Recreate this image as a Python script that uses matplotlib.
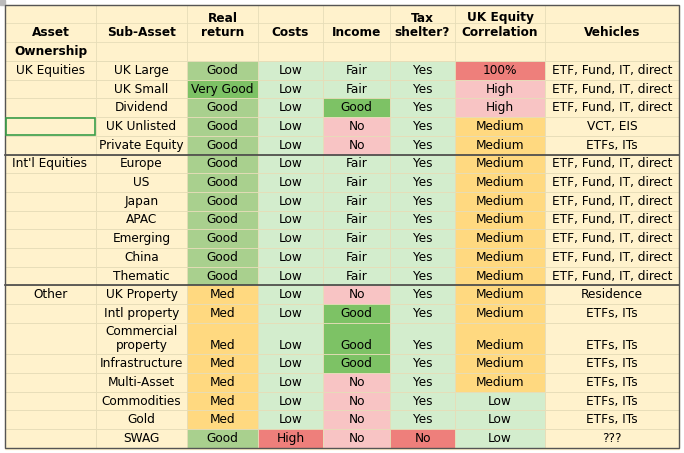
import matplotlib.pyplot as plt
from matplotlib.patches import Rectangle

headers = ["Asset", "Sub-Asset", "Real\nreturn", "Costs", "Income", "Tax\nshelter?", "UK Equity\nCorrelation", "Vehicles"]
assets = ["UK Equities", "", "", "", "", "Int'l Equities", "", "", "", "", "", "", "Other", "", "", "", "", "", "", ""]
subs = ["UK Large", "UK Small", "Dividend", "UK Unlisted", "Private Equity", "Europe", "US", "Japan", "APAC",
        "Emerging", "China", "Thematic", "UK Property", "Intl property", "Commercial\nproperty", "Infrastructure",
        "Multi-Asset", "Commodities", "Gold", "SWAG"]
real = ["Good", "Very Good", "Good", "Good", "Good"] + ["Good"] * 7 + ["Med"] * 7 + ["Good"]
costs = ["Low"] * 19 + ["High"]
income = ["Fair", "Fair", "Good", "No", "No"] + ["Fair"] * 7 + ["No", "Good", "Good", "Good", "No", "No", "No", "No"]
tax = ["Yes"] * 19 + ["No"]
corr = ["100%", "High", "High", "Medium", "Medium"] + ["Medium"] * 7 + ["Medium"] * 5 + ["Low", "Low", "Low"]
vehicles = ["ETF, Fund, IT, direct"] * 3 + ["VCT, EIS", "ETFs, ITs"] + ["ETF, Fund, IT, direct"] * 7 + \
           ["Residence"] + ["ETFs, ITs"] * 6 + ["???"]

cream = "#FFF2CC"
colors = {
    "Good_r": "#A9D08E", "Very Good": "#7DC265", "Med": "#FFD980",
    "Low_c": "#D3EDCD", "High_c": "#EE7F7B",
    "Fair": "#D3EDCD", "Good_i": "#7DC265", "No_i": "#F8C4C4",
    "Yes": "#D3EDCD", "No_t": "#EE7F7B",
    "100%": "#EE7F7B", "High": "#F8C4C4", "Medium": "#FFD980", "Low": "#D3EDCD",
}

def col_color(ci, v):
    if ci == 2:
        return colors["Good_r"] if v == "Good" else colors[v]
    if ci == 3:
        return colors["Low_c"] if v == "Low" else colors["High_c"]
    if ci == 4:
        return {"Fair": colors["Fair"], "Good": colors["Good_i"], "No": colors["No_i"]}[v]
    if ci == 5:
        return colors["Yes"] if v == "Yes" else colors["No_t"]
    if ci == 6:
        return colors[v]
    return cream

xs = [5, 96, 187, 258, 323, 390, 455, 545, 679]
fig = plt.figure(figsize=(6.84, 4.53), dpi=100)
ax = fig.add_axes([0, 0, 1, 1])
ax.set_xlim(0, 684)
ax.set_ylim(453, 0)
ax.axis("off")
ax.add_patch(Rectangle((0, 0), 684, 453, color="white", zorder=0))
ax.add_patch(Rectangle((xs[0], 5), xs[-1] - xs[0], 444, color=cream, zorder=0))
ax.add_patch(Rectangle((0, 0), 5, 5, color="#BBBBBB", zorder=0))

font = dict(family="DejaVu Sans", fontsize=8.7, color="black")
for i, h in enumerate(headers):
    ax.text((xs[i] + xs[i + 1]) / 2, 39, h, ha="center", va="bottom", fontweight="bold", linespacing=1.15, **font)
ax.text(14, 51.5, "Ownership", ha="left", va="center", fontweight="bold", **font)

rh = 18.7
heights = [31.5 if "\n" in s else rh for s in subs]
y = 61
rows_y = []
for hgt in heights:
    rows_y.append((y, hgt))
    y += hgt

grid = "#E6DDB8"
for r, (y0, hgt) in enumerate(rows_y):
    vals = [assets[r], subs[r], real[r], costs[r], income[r], tax[r], corr[r], vehicles[r]]
    for ci, v in enumerate(vals):
        c = col_color(ci, v)
        ax.add_patch(Rectangle((xs[ci], y0), xs[ci + 1] - xs[ci], hgt, facecolor=c, edgecolor=grid, lw=0.6, zorder=1))
        yy = y0 + hgt / 2
        if ci >= 2 and "\n" in subs[r]:
            yy = y0 + hgt - 9
        if ci == 0:
            ax.text(xs[0] + 45, yy, v, ha="center", va="center", **font)
        else:
            ax.text((xs[ci] + xs[ci + 1]) / 2, yy, v, ha="center", va="center", linespacing=1.05, **font)

for yy in (5, 23, 42, 61):
    ax.plot([xs[0], xs[-1]], [yy, yy], color=grid, lw=0.6, zorder=2)
for x in xs:
    ax.plot([x, x], [5, 61], color=grid, lw=0.6, zorder=2)
ax.add_patch(Rectangle((xs[0] + 1, rows_y[3][0] + 1), xs[1] - xs[0] - 2, rh - 2, fill=False, edgecolor="#3A9E4A", lw=1.2, zorder=4))
for r in (5, 12):
    ax.plot([xs[0], xs[-1]], [rows_y[r][0]] * 2, color="#444444", lw=1.2, zorder=3)
ax.add_patch(Rectangle((xs[0], 5), xs[-1] - xs[0], y - 5, fill=False, edgecolor="#555555", lw=1.0, zorder=3))

fig.savefig("out.png", dpi=100)
